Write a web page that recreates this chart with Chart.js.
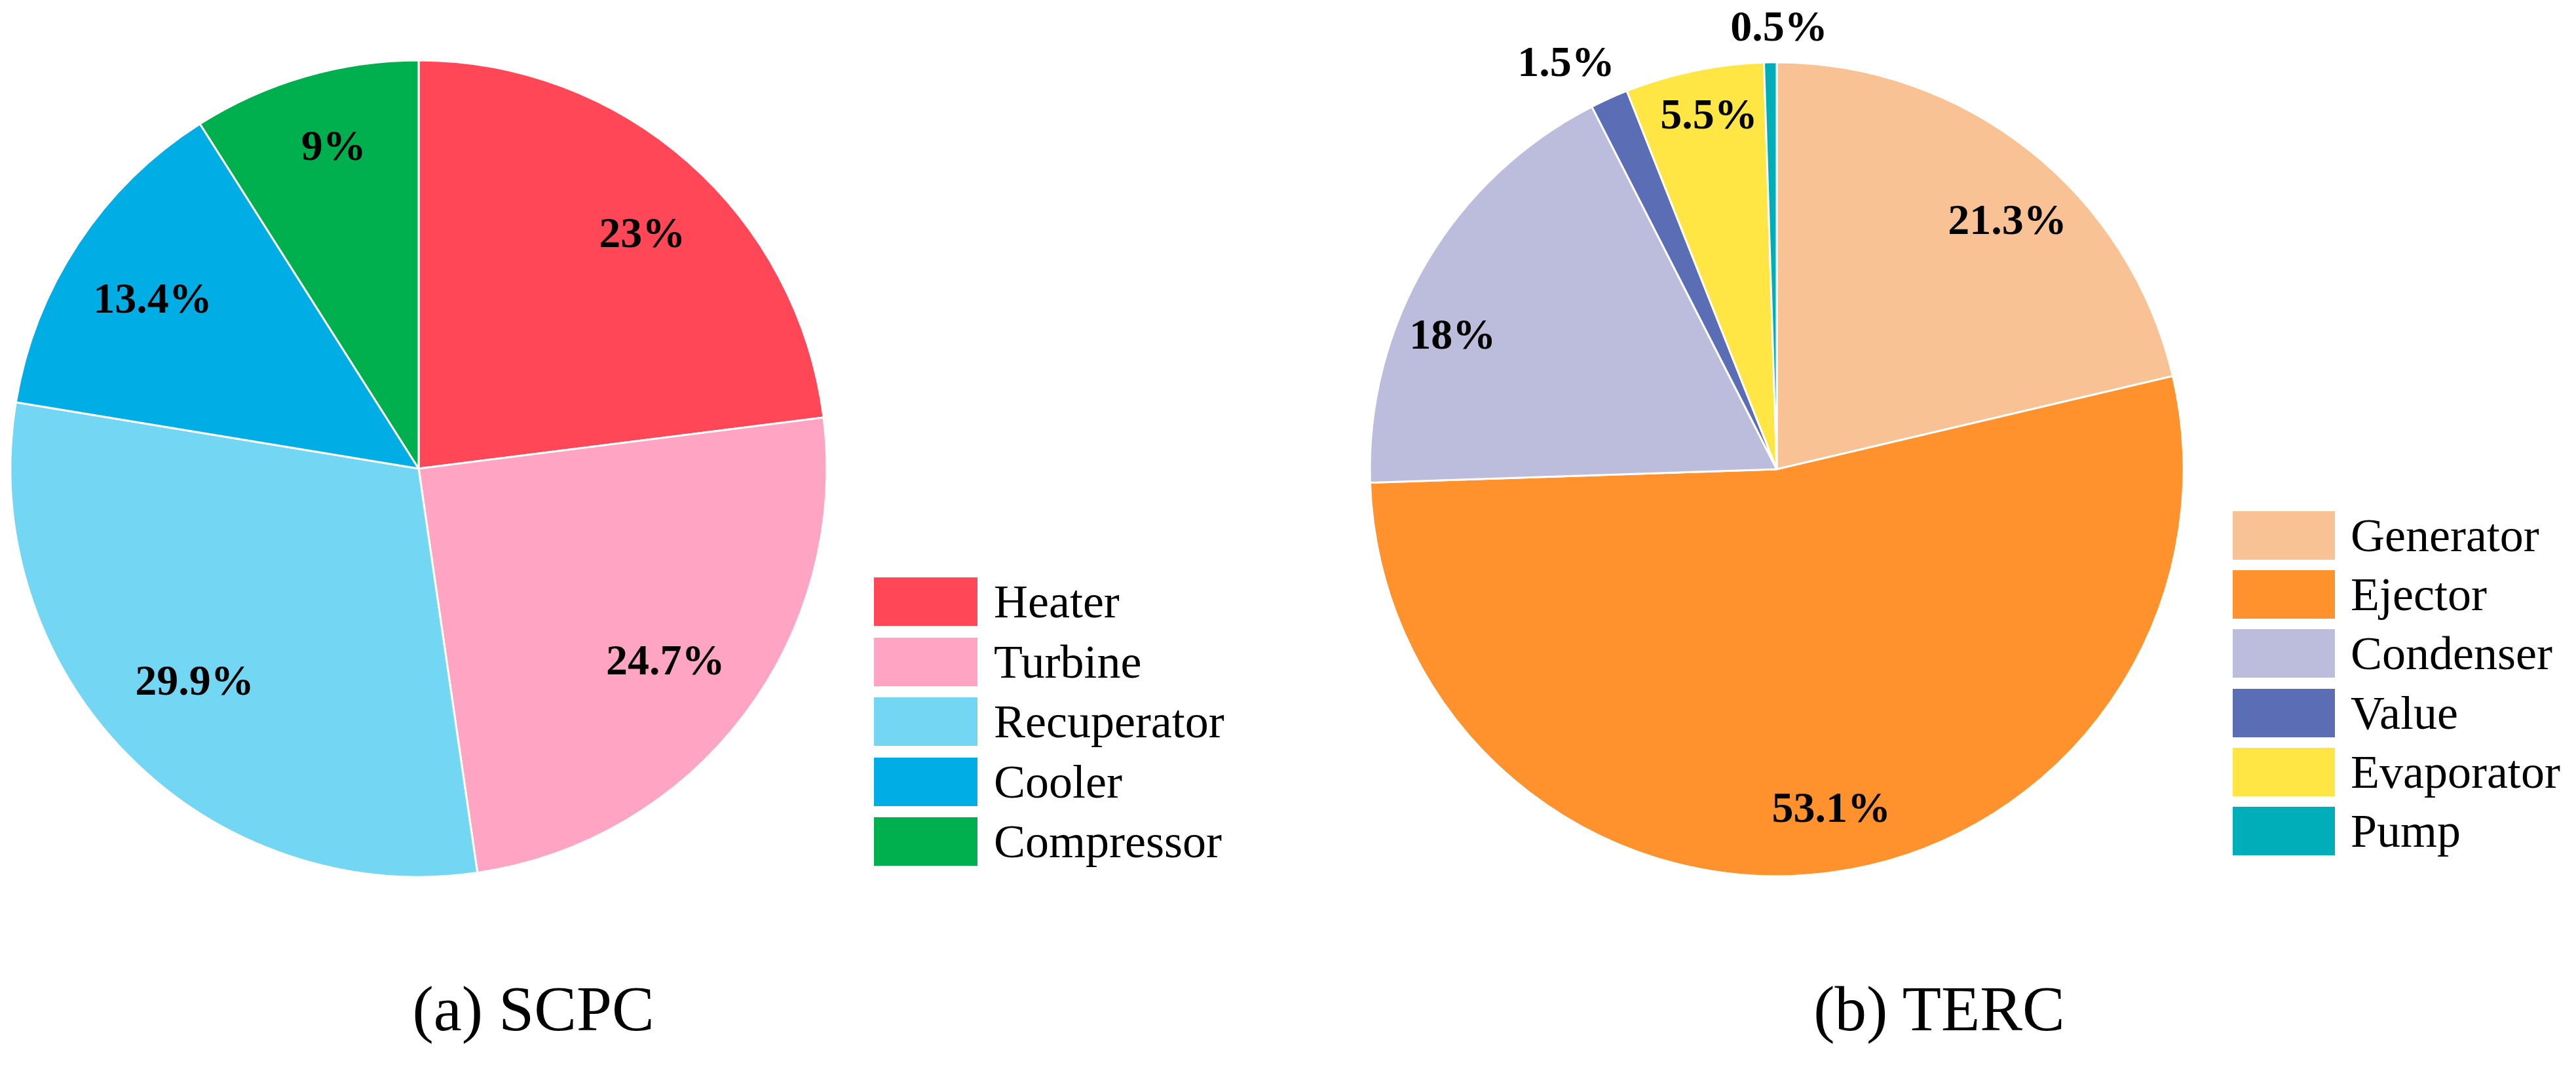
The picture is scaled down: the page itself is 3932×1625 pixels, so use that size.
<!DOCTYPE html>
<html>
<head>
<meta charset="utf-8">
<script src="https://cdn.jsdelivr.net/npm/chart.js@4.4.1/dist/chart.umd.min.js"></script>
<style>
  body { margin: 0; background: #fff; }
  #page { position: relative; width: 3932px; height: 1625px; overflow: hidden;
          font-family: "Liberation Serif", "Times New Roman", serif; color: #000; }
  .pie { position: absolute; width: 1400px; height: 1430px; }
  .legend { position: absolute; margin: 0; padding: 0; list-style: none; }
  .legend li { display: flex; align-items: center; height: 74px; font-size: 72px; line-height: 74px; white-space: nowrap; }
  .legend .box { height: 74px; flex: none; }
  .caption { position: absolute; top: 1491px; width: 800px; text-align: center; font-size: 97px; line-height: 97px; }
</style>
</head>
<body>
<div id="page">
  <div class="pie" style="left:-61px; top:0px;"><canvas id="scpc"></canvas></div>
  <div class="pie" style="left:2012px; top:1px;"><canvas id="terc"></canvas></div>
  <ul class="legend" id="scpcLegend" style="left:1334px; top:881px;"></ul>
  <ul class="legend" id="tercLegend" style="left:3408px; top:780px;"></ul>
  <div class="caption" style="left:414px;">(a) SCPC</div>
  <div class="caption" style="left:2560px;">(b) TERC</div>
</div>
<script>
// (a) SCPC
const scpcLabels = ['Heater', 'Turbine', 'Recuperator', 'Cooler', 'Compressor'];
const scpcValues = [23, 24.7, 29.9, 13.4, 9];
const scpcColors = ['#FF4757', '#FFA5C3', '#73D7F3', '#00AEE5', '#00B04F'];

// (b) TERC
const tercLabels = ['Generator', 'Ejector', 'Condenser', 'Value', 'Evaporator', 'Pump'];
const tercValues = [21.3, 53.1, 18, 1.5, 5.5, 0.5];
const tercColors = ['#F9C295', '#FF922C', '#BCBCDC', '#5B6DB4', '#FFE645', '#00AEB9'];

// percentage text on each slice, placed from the arc geometry
const pctLabels = {
  id: 'pctLabels',
  afterDatasetsDraw(chart, args, opts) {
    const ctx = chart.ctx;
    const meta = chart.getDatasetMeta(0);
    const values = chart.data.datasets[0].data;
    ctx.save();
    ctx.font = 'bold 66px "Liberation Serif", "Times New Roman", serif';
    ctx.fillStyle = '#000';
    ctx.textAlign = 'center';
    ctx.textBaseline = 'middle';
    meta.data.forEach((arc, i) => {
      const p = arc.getProps(['x', 'y', 'startAngle', 'endAngle', 'outerRadius'], true);
      const mid = (p.startAngle + p.endAngle) / 2 + (opts.shift[i] || 0) * Math.PI / 180;
      const r = p.outerRadius * opts.radius[i];
      ctx.fillText(values[i] + '%', p.x + Math.cos(mid) * r, p.y + Math.sin(mid) * r);
    });
    ctx.restore();
  }
};

const makePie = (id, labels, values, colors, radius, labelOpts) => {
  return new Chart(document.getElementById(id), {
    type: 'pie',
    data: {
      labels: labels,
      datasets: [{
        data: values,
        backgroundColor: colors,
        borderColor: '#fff',
        borderWidth: 3,
        radius: radius,
      }],
    },
    options: {
      responsive: true,
      maintainAspectRatio: false,
      animation: false,
      layout: { padding: 0 },
      plugins: {
        legend: { display: false },
        tooltip: { enabled: false },
        pctLabels: labelOpts,
      },
    },
    plugins: [pctLabels],
  });
};

const htmlLegend = (chart, id, boxWidth, gap, rowGap) => {
  const ul = document.getElementById(id);
  const items = chart.options.plugins.legend.labels.generateLabels(chart);
  items.forEach((item, i) => {
    const li = document.createElement('li');
    if (i > 0) li.style.marginTop = rowGap + 'px';
    const box = document.createElement('span');
    box.className = 'box';
    box.style.width = boxWidth + 'px';
    box.style.marginRight = gap + 'px';
    box.style.background = item.fillStyle;
    const txt = document.createElement('span');
    txt.textContent = item.text;
    li.appendChild(box);
    li.appendChild(txt);
    ul.appendChild(li);
  });
};

const scpcChart = makePie('scpc', scpcLabels, scpcValues, scpcColors, 623, {
  radius: [0.79, 0.77, 0.76, 0.77, 0.81],
  shift: [2.5, 1, 0.7, -1.3, 1.3],
});
const tercChart = makePie('terc', tercLabels, tercValues, tercColors, 621, {
  radius: [0.83, 0.85, 0.86, 1.12, 0.88, 1.08],
  shift: [4.7, -1.5, -8.4, -3.2, 0.8, 1.2],
});

htmlLegend(scpcChart, 'scpcLegend', 158, 25, 17.5);
htmlLegend(tercChart, 'tercLegend', 156, 24, 16.2);
</script>
</body>
</html>
